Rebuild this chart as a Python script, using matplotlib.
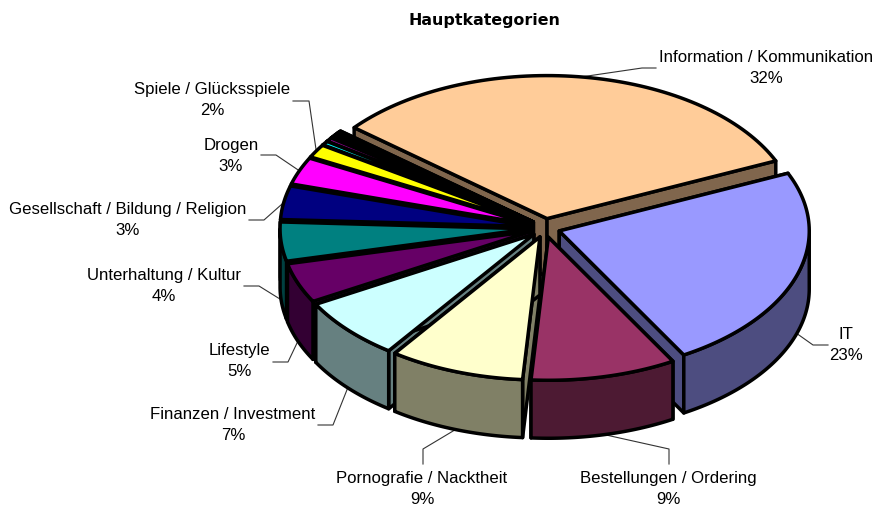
import numpy as np
import matplotlib
matplotlib.use("Agg")
import matplotlib.pyplot as plt
from matplotlib.colors import to_rgb
from matplotlib.patches import Polygon

labels = ["Information / Kommunikation", "IT", "Bestellungen / Ordering", "Pornografie / Nacktheit",
          "Finanzen / Investment", "Lifestyle", "Unterhaltung / Kultur",
          "Gesellschaft / Bildung / Religion", "Drogen", "Spiele / Glücksspiele"]
percents = [32, 23, 9, 9, 7, 5, 4, 3, 3, 2]
# slice sizes as measured on the picture, the labels only show them rounded
sliceValues = [32.4, 23.3, 9.4, 8.75, 7.0, 4.5, 4.4, 3.8, 3.1, 1.5]
# the unlabelled slices at the end
restValues = [0.45, 0.45, 0.15, 0.15, 0.15, 0.15, 0.15, 0.15]
colors = ["#FFCC99", "#9999FF", "#993366", "#FFFFCC", "#CCFFFF", "#660066", "#008080",
          "#000080", "#FF00FF", "#FFFF00", "#00FFFF", "#800080", "#800000", "#008080", "#0000FF",
          "#FFCC99", "#3366FF", "#33CCCC"]

# label layout in pixels: text centre, then leader elbow and leader end
labelCenters = [(766, 68), (846, 345), (668, 489), (422, 489), (233, 425),
                (239, 361), (164, 286), (128, 220), (231, 156), (212, 100)]
leaderElbows = [(642, 68), (813, 345), (669, 449), (423, 449), (333, 425),
                (288, 362), (259, 286), (264, 220), (276, 155), (309, 101)]
leaderEnds = [(656, 68), (828, 345), (669, 464), (423, 464), (318, 425),
              (273, 362), (244, 286), (249, 220), (261, 155), (293, 101)]

centerX, centerY = 545, 228
radiusX, radiusY = 250, 143
explodeX, explodeY = 15, 9.5
depth = 58
startAngle = -50.5
edgeWidth = 2.5

plt.rcParams["font.family"] = ["Liberation Sans", "DejaVu Sans"]
figure = plt.figure(figsize=(8.74, 5.07), dpi=100)
ax = figure.add_axes([0, 0, 1, 1])
ax.set_xlim(0, 874)
ax.set_ylim(507, 0)
ax.axis("off")


def rimPoints(apex, angles):
    rad = np.radians(angles)
    return np.column_stack([apex[0] + radiusX * np.sin(rad), apex[1] - radiusY * np.cos(rad)])


def addShape(points, color, zorder):
    ax.add_patch(Polygon(points, closed=True, facecolor=color, edgecolor="black",
                         linewidth=edgeWidth, joinstyle="round", zorder=zorder))


values = np.array(sliceValues + restValues, dtype=float)
edges = startAngle + np.concatenate([[0], np.cumsum(values)]) / values.sum() * 360
mids = (edges[:-1] + edges[1:]) / 2
apexes = [(centerX + explodeX * np.sin(np.radians(m)), centerY - explodeY * np.cos(np.radians(m))) for m in mids]

# painter order, back slices first
order = sorted(range(len(values)), key=lambda i: -(np.cos(np.radians(mids[i])) - 0.05 * np.sin(np.radians(mids[i]))))
for z, i in enumerate(order):
    apex = apexes[i]
    top = colors[i]
    side = tuple(c * 0.5 for c in to_rgb(top))
    base = z * 4 + 2
    drop = np.array([0, depth])
    angles = np.linspace(edges[i], edges[i + 1], 80)
    arc = rimPoints(apex, angles)
    apexPoint = np.array(apex)

    # the two cut faces
    for end in (arc[0], arc[-1]):
        addShape([apexPoint, end, end + drop, apexPoint + drop], side, base)

    # outer wall, only the front half of the ellipse shows
    low, high = max(edges[i], 90), min(edges[i + 1], 270)
    if low < high:
        front = rimPoints(apex, np.linspace(low, high, 80))
        addShape(np.vstack([front, (front + drop)[::-1]]), side, base + 1)

    addShape(np.vstack([apexPoint, arc]), top, base + 2)

for i, name in enumerate(labels):
    rim = rimPoints(apexes[i], np.array([mids[i]]))[0]
    if np.cos(np.radians(mids[i])) < 0:
        rim = rim + np.array([0, depth])
    ax.plot([rim[0], leaderElbows[i][0], leaderEnds[i][0]], [rim[1], leaderElbows[i][1], leaderEnds[i][1]],
            color="#333333", linewidth=0.8, zorder=1)
    ax.text(labelCenters[i][0], labelCenters[i][1], f"{name}\n{percents[i]}%", ha="center", va="center",
            fontsize=12.1, linespacing=1.58, color="black", zorder=200)

ax.text(484, 20, "Hauptkategorien", ha="center", va="center", fontsize=11.4, fontweight="bold",
        family="DejaVu Sans", color="black")

figure.savefig("out.png", dpi=100, facecolor="white")
